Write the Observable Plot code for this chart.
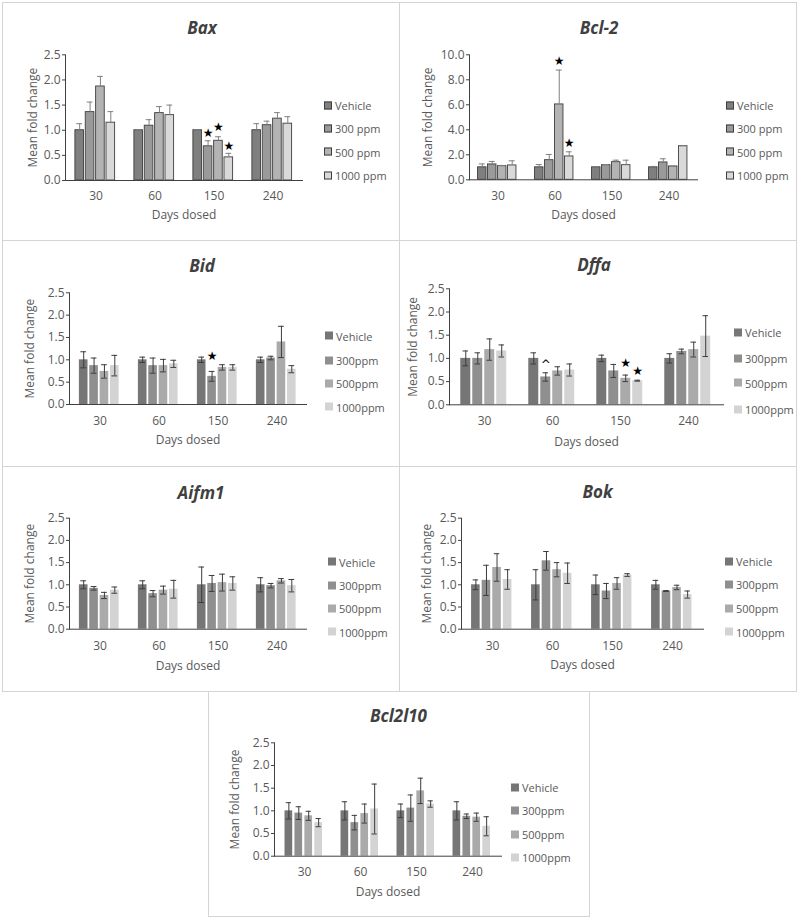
<!DOCTYPE html>
<html><head><meta charset="utf-8">
<script src="https://cdn.jsdelivr.net/npm/d3@7"></script>
<script src="https://cdn.jsdelivr.net/npm/@observablehq/plot@0.6"></script>
<style>
body{margin:0;background:#fff;}
#page{position:relative;width:800px;height:921px;font-family:"Open Sans",sans-serif;overflow:hidden;background:#fff;}
#page svg{position:absolute;}
.box{position:absolute;box-sizing:border-box;border:1px solid #d4d4d4;pointer-events:none;}
.title{position:absolute;transform:translate(-50%,-50%);font-family:"Open Sans",sans-serif;font-style:italic;font-weight:bold;font-size:17px;color:#404040;white-space:nowrap;line-height:1;}
.leg{position:absolute;display:flex;align-items:center;transform:translateY(-50%);font-size:11px;color:#595959;white-space:nowrap;line-height:1;}
.sw{width:8px;height:8px;margin-right:3px;box-sizing:border-box;}
</style></head><body><div id="page"></div>
<script>
// ---- categories / labels ----
const days = ["30", "60", "150", "240"];
const legendSpaced = ["Vehicle", "300 ppm", "500 ppm", "1000 ppm"];
const legendTight = ["Vehicle", "300ppm", "500ppm", "1000ppm"];
const yTitle = "Mean fold change";
const xTitle = "Days dosed";

// ---- values: rows = days, columns = Vehicle, 300, 500, 1000 ppm ----
const baxMean = [[1.00, 1.36, 1.87, 1.15], [1.00, 1.09, 1.34, 1.30], [1.00, 0.68, 0.79, 0.46], [1.00, 1.10, 1.23, 1.13]];
const baxSE   = [[0.13, 0.20, 0.20, 0.22], [0.01, 0.12, 0.13, 0.20], [0.01, 0.11, 0.08, 0.08], [0.13, 0.08, 0.12, 0.14]];
const baxSig  = [{day: "150", dose: 1, y: 0.95, s: "★"}, {day: "150", dose: 2, y: 1.06, s: "★"}, {day: "150", dose: 3, y: 0.68, s: "★"}];

const bcl2Mean = [[1.00, 1.23, 1.09, 1.15], [1.00, 1.57, 6.03, 1.87], [1.00, 1.17, 1.41, 1.17], [1.00, 1.39, 1.07, 2.69]];
const bcl2SE   = [[0.27, 0.24, 0.06, 0.37], [0.22, 0.46, 2.75, 0.37], [0.05, 0.05, 0.16, 0.40], [0.07, 0.29, 0.01, 0.03]];
const bcl2Sig  = [{day: "60", dose: 2, y: 9.5, s: "★"}, {day: "60", dose: 3, y: 2.93, s: "★"}];

const bidMean = [[1.00, 0.87, 0.74, 0.87], [1.00, 0.87, 0.87, 0.91], [1.00, 0.63, 0.83, 0.83], [1.00, 1.04, 1.40, 0.79]];
const bidSE   = [[0.18, 0.17, 0.15, 0.23], [0.06, 0.17, 0.14, 0.08], [0.06, 0.11, 0.06, 0.06], [0.06, 0.04, 0.35, 0.08]];
const bidSig  = [{day: "150", dose: 1, y: 1.09, s: "★"}];

const dffaMean = [[1.00, 1.00, 1.19, 1.16], [1.00, 0.60, 0.73, 0.75], [1.00, 0.73, 0.57, 0.52], [1.00, 1.15, 1.19, 1.48]];
const dffaSE   = [[0.16, 0.12, 0.23, 0.13], [0.12, 0.09, 0.09, 0.13], [0.07, 0.14, 0.07, 0.01], [0.10, 0.05, 0.16, 0.44]];
const dffaSig  = [{day: "60", dose: 1, y: 0.86, s: "^"}, {day: "150", dose: 2, y: 0.90, s: "★"}, {day: "150", dose: 3, y: 0.73, s: "★"}];

const aifm1Mean = [[1.00, 0.92, 0.76, 0.88], [1.00, 0.80, 0.88, 0.90], [1.00, 1.03, 1.05, 1.03], [1.00, 0.98, 1.09, 0.98]];
const aifm1SE   = [[0.09, 0.04, 0.07, 0.07], [0.09, 0.07, 0.09, 0.20], [0.40, 0.18, 0.19, 0.15], [0.16, 0.05, 0.05, 0.14]];

const bokMean = [[1.00, 1.10, 1.39, 1.12], [1.00, 1.54, 1.34, 1.26], [1.00, 0.86, 1.03, 1.22], [1.00, 0.86, 0.94, 0.78]];
const bokSE   = [[0.11, 0.34, 0.31, 0.22], [0.34, 0.21, 0.16, 0.23], [0.22, 0.17, 0.13, 0.03], [0.10, 0.01, 0.05, 0.08]];

const bcl2l10Mean = [[1.00, 0.95, 0.89, 0.74], [1.00, 0.74, 0.94, 1.04], [1.00, 1.06, 1.44, 1.15], [1.00, 0.88, 0.86, 0.66]];
const bcl2l10SE   = [[0.18, 0.14, 0.10, 0.09], [0.20, 0.16, 0.21, 0.55], [0.15, 0.29, 0.28, 0.07], [0.20, 0.05, 0.09, 0.21]];

// ---- styles ----
const fillsOutlined = ["#7f7f7f", "#9a9a9a", "#b3b3b3", "#d9d9d9"];
const fillsFlat = ["#767676", "#8f8f8f", "#aaaaaa", "#d3d3d3"];

// ---- layout (page coordinates) ----
const panels = [
  {title: "Bax", mean: baxMean, se: baxSE, sig: baxSig, outlined: true, legend: legendSpaced, ymax: 2.5, step: 0.5,
   box: [2, 2, 400, 241], plot: [65, 302, 54.3, 180], titlePos: [202, 27], leg: [324, [105, 128.3, 151.7, 175]], yLab: 33, xTick: 195, xLab: 215},
  {title: "Bcl-2", mean: bcl2Mean, se: bcl2SE, sig: bcl2Sig, outlined: true, legend: legendSpaced, ymax: 10, step: 2,
   box: [399, 2, 797, 241], plot: [469, 697, 54.3, 179.3], titlePos: [599, 27], leg: [726, [105, 128.3, 151.7, 175]], yLab: 428, xTick: 195, xLab: 215},
  {title: "Bid", mean: bidMean, se: bidSE, sig: bidSig, outlined: false, legend: legendTight, ymax: 2.5, step: 0.5,
   box: [2, 240, 400, 467], plot: [69, 306, 292.3, 404], titlePos: [202, 264.5], leg: [325, [335.7, 360, 383.3, 406.7]], yLab: 30, xTick: 420, xLab: 440},
  {title: "Dffa", mean: dffaMean, se: dffaSE, sig: dffaSig, outlined: false, legend: legendTight, ymax: 2.5, step: 0.5,
   box: [399, 240, 797, 467], plot: [449, 723, 288.3, 404.3], titlePos: [594, 263.5], leg: [734, [332.3, 358.3, 382.7, 409]], yLab: 413, xTick: 420, xLab: 441.5},
  {title: "Aifm1", mean: aifm1Mean, se: aifm1SE, sig: [], outlined: false, legend: legendTight, ymax: 2.5, step: 0.5,
   box: [2, 466, 400, 692], plot: [69, 306, 517.7, 628.7], titlePos: [201, 491.7], leg: [328, [561.7, 585, 608.3, 631.7]], yLab: 30, xTick: 645, xLab: 665.5},
  {title: "Bok", mean: bokMean, se: bokSE, sig: [], outlined: false, legend: legendTight, ymax: 2.5, step: 0.5,
   box: [399, 466, 797, 692], plot: [461, 703, 517.7, 628.7], titlePos: [597.5, 490.5], leg: [725, [561.3, 584.3, 608.3, 631.7]], yLab: 427, xTick: 645, xLab: 665},
  {title: "Bcl2l10", mean: bcl2l10Mean, se: bcl2l10SE, sig: [], outlined: false, legend: legendTight, ymax: 2.5, step: 0.5,
   box: [208, 691, 590, 917], plot: [274, 501, 742.3, 855.7], titlePos: [398.5, 715], leg: [511, [787, 810.3, 834, 857.3]], yLab: 235, xTick: 871, xLab: 892}
];

const page = document.getElementById("page");

function makePanel(cfg) {
  const [L, T, R, B] = cfg.box;
  const [x0, x1, yt, yb] = cfg.plot;
  const W = R - L, H = B - T;
  const rows = [];
  days.forEach((d, di) => cfg.mean[di].forEach((m, i) => rows.push({day: d, i, m, se: cfg.se[di][i]})));
  const bw = (x1 - x0) / days.length;
  const G = bw * 0.7, slot = G / 4, gap = 1.5, barW = slot - gap;
  const leftIn = i => (bw - G) / 2 + i * slot;
  const ctr = i => leftIn(i) + barW / 2;
  const fills = cfg.outlined ? fillsOutlined : fillsFlat;
  const errColor = cfg.outlined ? "#808080" : "#3c3c3c";
  const marks = [];
  for (let i = 0; i < 4; i++) {
    const ri = rows.filter(r => r.i === i);
    marks.push(Plot.barY(ri, {x: "day", y: "m", fill: fills[i],
      stroke: cfg.outlined ? "#3f3f3f" : null, strokeWidth: 0.9,
      insetLeft: leftIn(i), insetRight: bw - leftIn(i) - barW}));
  }
  for (let i = 0; i < 4; i++) {
    const ri = rows.filter(r => r.i === i);
    const lo = cfg.outlined ? (r => r.m) : (r => r.m - r.se);
    const hi = r => r.m + r.se;
    marks.push(Plot.ruleX(ri, {x: "day", y1: lo, y2: hi, dx: ctr(i) - bw / 2, stroke: errColor, strokeWidth: 1}));
    marks.push(Plot.tickY(ri, {x: "day", y: hi, insetLeft: ctr(i) - 3, insetRight: bw - ctr(i) - 3, stroke: errColor, strokeWidth: 1}));
    if (!cfg.outlined) marks.push(Plot.tickY(ri, {x: "day", y: lo, insetLeft: ctr(i) - 3, insetRight: bw - ctr(i) - 3, stroke: errColor, strokeWidth: 1}));
    const si = cfg.sig.filter(s => s.dose === i);
    if (si.length) marks.push(Plot.text(si, {x: "day", y: "y", text: "s", dx: ctr(i) - bw / 2, fill: "#000",
      fontSize: 12, fontFamily: "DejaVu Sans"}));
  }
  const ticks = d3.range(0, cfg.ymax + cfg.step / 2, cfg.step);
  marks.push(Plot.frame({anchor: "left", stroke: "#404040"}));
  marks.push(Plot.frame({anchor: "bottom", stroke: "#404040"}));
  marks.push(Plot.axisY({ticks, tickFormat: d3.format(".1f"), tickSize: 3, tickPadding: 2, label: null,
    stroke: "#404040", fill: "#595959", fontSize: 12}));
  marks.push(Plot.axisX({tickSize: 0, tickPadding: cfg.xTick - yb - 4.5, label: null, fill: "#595959", fontSize: 12}));
  marks.push(Plot.text([yTitle], {frameAnchor: "left", rotate: -90, dx: cfg.yLab - x0, textAnchor: "middle", lineAnchor: "middle",
    fill: "#595959", fontSize: 12}));
  marks.push(Plot.text([xTitle], {frameAnchor: "bottom", dy: cfg.xLab - yb, textAnchor: "middle", lineAnchor: "middle",
    fill: "#595959", fontSize: 12}));

  const svg = Plot.plot({
    width: W, height: H,
    marginLeft: x0 - L, marginRight: R - x1, marginTop: yt - T, marginBottom: B - yb,
    x: {domain: days, padding: 0, axis: null},
    y: {domain: [0, cfg.ymax], axis: null},
    style: {background: "transparent", fontFamily: "Open Sans", fontSize: "12px", overflow: "visible", color: "#595959"},
    marks
  });
  svg.style.left = L + "px";
  svg.style.top = T + "px";
  page.appendChild(svg);

  const t = document.createElement("div");
  t.className = "title";
  t.textContent = cfg.title;
  t.style.left = cfg.titlePos[0] + "px";
  t.style.top = cfg.titlePos[1] + "px";
  page.appendChild(t);

  cfg.legend.forEach((lab, i) => {
    const d = document.createElement("div");
    d.className = "leg";
    d.style.left = cfg.leg[0] + "px";
    d.style.top = cfg.leg[1][i] + "px";
    const sw = document.createElement("span");
    sw.className = "sw";
    sw.style.background = fills[i];
    if (cfg.outlined) sw.style.border = "1px solid #3f3f3f";
    d.appendChild(sw);
    d.appendChild(document.createTextNode(lab));
    page.appendChild(d);
  });

  const b = document.createElement("div");
  b.className = "box";
  b.style.left = L + "px"; b.style.top = T + "px";
  b.style.width = W + "px"; b.style.height = H + "px";
  page.appendChild(b);
}
panels.forEach(makePanel);
</script>
</body></html>
